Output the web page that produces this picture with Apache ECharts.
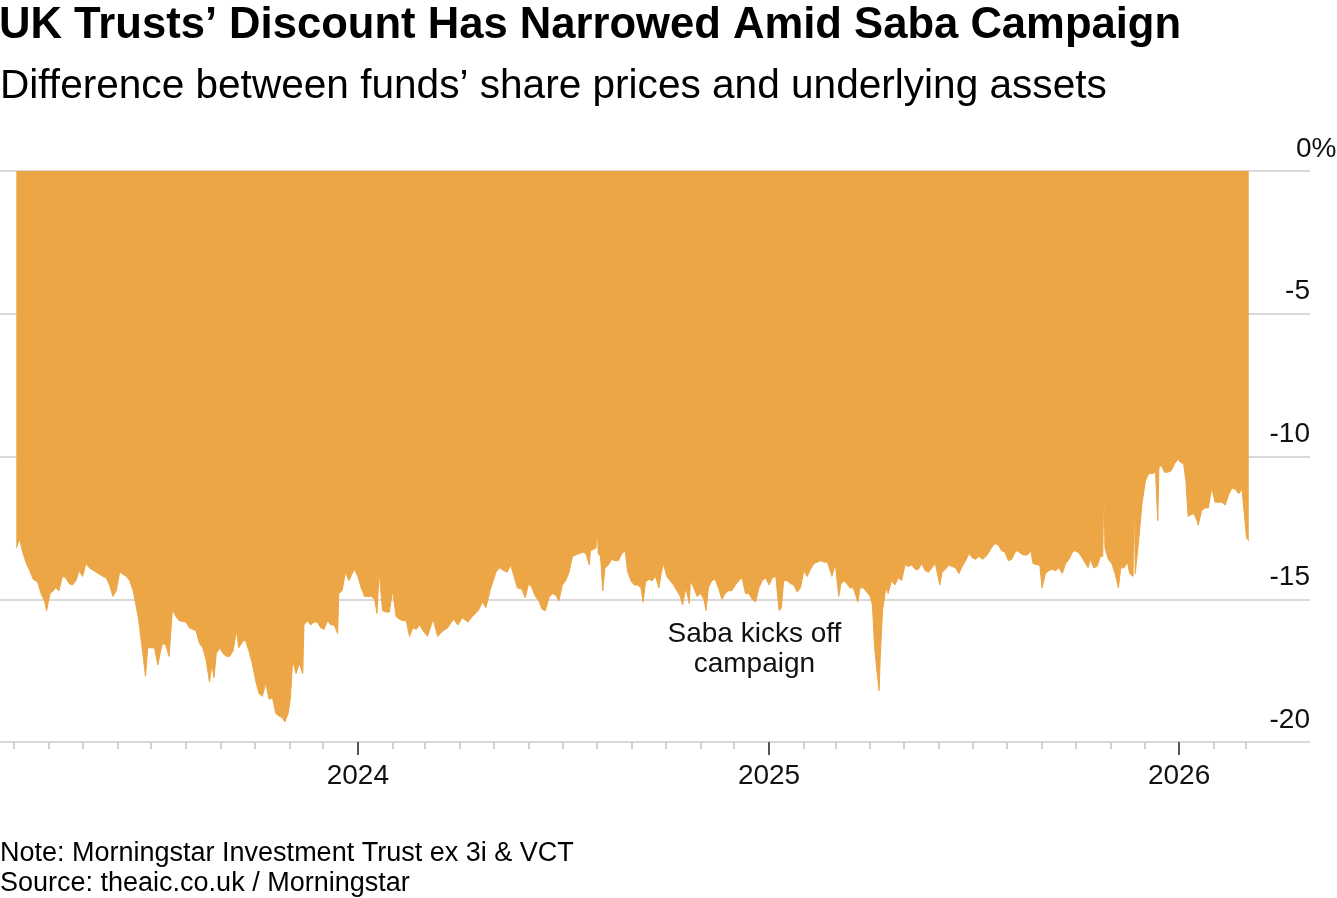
<!DOCTYPE html>
<html>
<head>
<meta charset="utf-8">
<script src="https://cdn.jsdelivr.net/npm/echarts@6/dist/echarts.min.js"></script>
<style>
html,body{margin:0;padding:0;background:#fff;}
#chart{width:1337px;height:898px;}
</style>
</head>
<body>
<div id="chart"></div>
<script>
// ---- Data ----
const dates2023 = ['2023-03-03','2023-03-06','2023-03-09','2023-03-12','2023-03-15','2023-03-18','2023-03-22','2023-03-25','2023-03-28','2023-03-30',
'2023-04-02','2023-04-05','2023-04-07','2023-04-10','2023-04-13','2023-04-16','2023-04-19','2023-04-22','2023-04-25','2023-04-28',
'2023-05-01','2023-05-04','2023-05-07','2023-05-13','2023-05-19','2023-05-22','2023-05-25','2023-05-28','2023-05-31',
'2023-06-03','2023-06-09','2023-06-12','2023-06-15','2023-06-18','2023-06-20','2023-06-23','2023-06-26','2023-06-28',
'2023-07-04','2023-07-07','2023-07-09','2023-07-11','2023-07-14','2023-07-17','2023-07-20','2023-07-23','2023-07-26',
'2023-08-01','2023-08-04','2023-08-10','2023-08-13','2023-08-16','2023-08-19','2023-08-22','2023-08-24','2023-08-26','2023-08-28','2023-08-31',
'2023-09-03','2023-09-06','2023-09-09','2023-09-12','2023-09-15','2023-09-17','2023-09-21','2023-09-23','2023-09-26','2023-09-29',
'2023-10-02','2023-10-05','2023-10-08','2023-10-11','2023-10-14','2023-10-17','2023-10-20','2023-10-23','2023-10-26','2023-10-28','2023-10-31',
'2023-11-02','2023-11-04','2023-11-07','2023-11-10','2023-11-13','2023-11-14','2023-11-17','2023-11-20','2023-11-23','2023-11-26','2023-11-29',
'2023-12-02','2023-12-05','2023-12-08','2023-12-11','2023-12-14','2023-12-15','2023-12-18','2023-12-21','2023-12-24','2023-12-27','2023-12-29'];
const values2023 = [-13.2,-12.9,-13.4,-13.75,-14.0,-14.3,-14.4,-14.8,-15.05,-15.4,
-14.8,-14.7,-14.6,-14.7,-14.2,-14.25,-14.45,-14.5,-14.35,-14.0,
-14.2,-13.75,-13.9,-14.05,-14.2,-14.25,-14.5,-14.9,-14.7,
-14.05,-14.2,-14.35,-14.7,-15.3,-15.75,-16.7,-17.7,-16.7,
-16.7,-17.3,-16.9,-16.55,-16.6,-17.0,-15.35,-15.6,-15.75,
-15.8,-16.0,-16.1,-16.55,-16.7,-17.15,-17.9,-17.3,-17.75,-16.9,-16.7,
-16.9,-17.0,-17.0,-16.8,-16.1,-16.7,-16.45,-16.45,-16.8,-17.25,
-17.85,-18.3,-18.4,-17.95,-18.5,-18.45,-19.0,-19.1,-19.15,-19.3,-19.0,
-18.45,-17.15,-17.6,-17.25,-17.6,-15.9,-15.75,-15.9,-15.8,-15.8,-16.0,
-16.05,-15.75,-15.9,-15.9,-16.2,-14.8,-14.7,-14.05,-14.35,-14.1,-13.95];

const dates2024 = ['2024-01-01','2024-01-04','2024-01-07','2024-01-10','2024-01-13','2024-01-16','2024-01-18','2024-01-20','2024-01-23','2024-01-26','2024-01-29',
'2024-02-01','2024-02-04','2024-02-07','2024-02-10','2024-02-13','2024-02-16','2024-02-19','2024-02-22','2024-02-25','2024-02-28',
'2024-03-03','2024-03-08','2024-03-12','2024-03-17','2024-03-21','2024-03-26','2024-03-30',
'2024-04-03','2024-04-08','2024-04-12','2024-04-17','2024-04-21','2024-04-24','2024-04-28',
'2024-05-03','2024-05-06','2024-05-10','2024-05-13','2024-05-16','2024-05-19','2024-05-22','2024-05-26','2024-05-29',
'2024-06-01','2024-06-04','2024-06-07','2024-06-10','2024-06-13','2024-06-16','2024-06-19','2024-06-22','2024-06-25','2024-06-28',
'2024-07-01','2024-07-04','2024-07-07','2024-07-10','2024-07-13','2024-07-16','2024-07-19','2024-07-22','2024-07-25','2024-07-26','2024-07-29','2024-07-31',
'2024-08-01','2024-08-02','2024-08-04','2024-08-06','2024-08-08','2024-08-11','2024-08-14','2024-08-17','2024-08-20','2024-08-23','2024-08-26','2024-08-28','2024-08-31',
'2024-09-03','2024-09-06','2024-09-09','2024-09-11','2024-09-13','2024-09-16','2024-09-19','2024-09-22','2024-09-25','2024-09-27','2024-09-29',
'2024-10-02','2024-10-05','2024-10-08','2024-10-11','2024-10-14','2024-10-16','2024-10-19','2024-10-22','2024-10-23','2024-10-26','2024-10-29',
'2024-11-01','2024-11-04','2024-11-06','2024-11-08','2024-11-11','2024-11-14','2024-11-17','2024-11-20','2024-11-23','2024-11-26','2024-11-29',
'2024-12-02','2024-12-05','2024-12-08','2024-12-11','2024-12-14','2024-12-17','2024-12-20','2024-12-23','2024-12-26','2024-12-29'];
const values2024 = [-14.2,-14.6,-14.9,-14.9,-14.9,-15.0,-15.5,-14.05,-15.4,-15.45,-15.45,
-14.7,-15.6,-15.7,-15.75,-15.75,-16.3,-16.0,-16.05,-15.9,-16.1,
-16.3,-15.7,-16.3,-16.1,-16.0,-15.7,-15.9,
-15.65,-15.8,-15.6,-15.4,-15.1,-15.3,-14.65,
-14.05,-13.9,-14.0,-14.05,-13.8,-14.2,-14.6,-14.65,-14.95,
-14.45,-14.6,-14.9,-15.05,-15.35,-15.4,-14.95,-14.8,-14.85,-15.05,
-14.5,-14.35,-14.05,-13.5,-13.45,-13.4,-13.35,-13.4,-13.8,-13.3,-13.25,-13.2,
-12.3,-13.4,-13.5,-14.7,-13.9,-13.8,-13.6,-13.65,-13.65,-13.4,-13.3,-14.0,-14.35,
-14.5,-14.5,-14.6,-15.1,-14.4,-14.3,-14.35,-14.2,-14.6,-14.1,-13.75,
-14.2,-14.35,-14.5,-14.7,-14.9,-15.2,-14.6,-15.15,-14.35,-14.6,-14.9,
-14.8,-15.0,-15.4,-14.6,-14.35,-14.3,-14.6,-15.0,-14.8,-14.7,-14.7,
-14.5,-14.35,-14.25,-14.8,-14.8,-15.0,-15.1,-14.6,-14.35,-14.25];

const dates2025 = ['2025-01-01','2025-01-04','2025-01-07','2025-01-10','2025-01-12','2025-01-14','2025-01-17','2025-01-20','2025-01-23','2025-01-26','2025-01-29',
'2025-02-01','2025-02-04','2025-02-07','2025-02-10','2025-02-13','2025-02-16','2025-02-19','2025-02-22','2025-02-26',
'2025-03-01','2025-03-04','2025-03-06','2025-03-09','2025-03-12','2025-03-14','2025-03-17','2025-03-21','2025-03-23','2025-03-26','2025-03-29',
'2025-04-01','2025-04-03','2025-04-05','2025-04-07','2025-04-09','2025-04-10','2025-04-12','2025-04-15','2025-04-17','2025-04-20','2025-04-23','2025-04-26','2025-04-29',
'2025-05-02','2025-05-05','2025-05-08','2025-05-11','2025-05-14','2025-05-17','2025-05-20','2025-05-23','2025-05-26','2025-05-29',
'2025-06-02','2025-06-04','2025-06-07','2025-06-10','2025-06-13','2025-06-16','2025-06-19','2025-06-22','2025-06-25','2025-06-28',
'2025-07-01','2025-07-04','2025-07-07','2025-07-10','2025-07-13','2025-07-15','2025-07-18','2025-07-21','2025-07-24','2025-07-27','2025-07-30',
'2025-08-02','2025-08-05','2025-08-08','2025-08-10','2025-08-13','2025-08-16','2025-08-19','2025-08-22','2025-08-24','2025-08-28','2025-08-30',
'2025-09-01','2025-09-04','2025-09-07','2025-09-10','2025-09-13','2025-09-16','2025-09-19','2025-09-22','2025-09-25','2025-09-28','2025-09-30',
'2025-10-03','2025-10-06','2025-10-09','2025-10-12','2025-10-14','2025-10-17','2025-10-20','2025-10-23','2025-10-25','2025-10-26','2025-10-27','2025-10-30',
'2025-11-02','2025-11-05','2025-11-08','2025-11-10','2025-11-13','2025-11-16','2025-11-18','2025-11-21','2025-11-22','2025-11-23','2025-11-26','2025-11-29',
'2025-12-02','2025-12-05','2025-12-08','2025-12-11','2025-12-12','2025-12-13','2025-12-14','2025-12-16','2025-12-19','2025-12-22','2025-12-25','2025-12-28','2025-12-31'];
const values2025 = [-14.5,-14.25,-14.2,-15.4,-15.3,-14.35,-14.35,-14.45,-14.5,-14.75,-14.6,
-14.0,-14.2,-13.95,-13.75,-13.7,-13.65,-13.7,-13.7,-14.2,
-13.75,-14.9,-14.45,-14.35,-14.5,-14.6,-14.6,-15.1,-14.6,-14.6,-14.75,
-14.9,-15.2,-16.7,-17.5,-18.2,-17.05,-15.4,-14.6,-14.8,-14.35,-14.5,-14.25,-14.35,
-13.8,-13.85,-13.8,-13.95,-13.95,-13.75,-14.0,-14.05,-13.9,-13.75,
-14.5,-14.05,-13.95,-13.8,-13.85,-13.9,-14.1,-13.85,-13.65,-13.4,
-13.55,-13.6,-13.5,-13.6,-13.5,-13.4,-13.2,-13.05,-13.1,-13.3,-13.35,
-13.65,-13.6,-13.35,-13.3,-13.4,-13.45,-13.45,-13.3,-13.75,-13.8,-13.8,
-14.6,-14.1,-14.0,-13.95,-14.0,-13.9,-14.1,-13.75,-13.6,-13.35,-13.3,
-13.35,-13.5,-13.7,-13.9,-13.6,-13.9,-13.85,-13.5,-13.5,-10.95,-13.2,-13.6,
-13.75,-14.1,-14.6,-13.9,-13.9,-13.7,-14.1,-14.2,-11.1,-14.1,-12.95,-11.65,
-10.85,-10.6,-10.6,-10.55,-10.6,-12.25,-10.4,-10.3,-10.55,-10.55,-10.5,-10.25,-10.1];

const dates2026 = ['2026-01-02','2026-01-05','2026-01-07','2026-01-09','2026-01-11','2026-01-14','2026-01-17','2026-01-18','2026-01-21','2026-01-24','2026-01-27','2026-01-30',
'2026-02-02','2026-02-05','2026-02-08','2026-02-11','2026-02-14','2026-02-17','2026-02-20','2026-02-23','2026-02-26','2026-02-28',
'2026-03-02','2026-03-04'];
const values2026 = [-10.2,-10.25,-10.85,-12.1,-12.05,-12.0,-12.25,-12.4,-11.9,-11.8,-11.8,-11.1,
-11.6,-11.6,-11.6,-11.7,-11.35,-11.1,-11.15,-11.3,-11.15,-12.0,
-12.85,-12.95];

const yearTickDates = ['2024-01-01','2025-01-01','2026-01-01'];
const annotationDate = '2024-12-19';
const annotationValue = -16.74;
const annotationText = 'Saba kicks off\ncampaign';

const titleText = 'UK Trusts’ Discount Has Narrowed Amid Saba Campaign';
const subtitleText = 'Difference between funds’ share prices and underlying assets';
const noteText = 'Note: Morningstar Investment Trust ex 3i & VCT';
const sourceText = 'Source: theaic.co.uk / Morningstar';

// ---- Build ----
const FONT = '"Liberation Sans", Arial, Helvetica, sans-serif';
const ts = s => { const p = s.split('-').map(Number); return new Date(p[0], p[1]-1, p[2]).getTime(); };
const allDates = [].concat(dates2023, dates2024, dates2025, dates2026);
const allValues = [].concat(values2023, values2024, values2025, values2026);
const seriesData = allDates.map((d, i) => [ts(d), allValues[i]]);

const monthTicks = [];
for (let y = 2023; y <= 2026; y++) {
  for (let m = 0; m < 12; m++) {
    const v = new Date(y, m, 1).getTime();
    if (v >= ts('2023-03-01') && v <= ts('2026-03-01') && m !== 0) monthTicks.push(v);
  }
}
const yearTicks = yearTickDates.map(ts);
const xMin = ts('2023-02-16') + 12 * 3600e3;
const xMax = ts('2026-04-27') + 12 * 3600e3;

const gridRect = {left: 0, right: 27, top: 171, bottom: 156, containLabel: false, outerBoundsMode: 'none'};

const chart = echarts.init(document.getElementById('chart'), null, {renderer: 'canvas'});
chart.setOption({
  animation: false,
  backgroundColor: '#fff',
  textStyle: {fontFamily: FONT},
  title: [
    {text: titleText, left: -1, top: 4, padding: 0,
     textStyle: {fontFamily: FONT, fontWeight: 'bold', fontSize: 43.6, color: '#000'}},
    {text: subtitleText, left: 0, top: 66, padding: 0,
     textStyle: {fontFamily: FONT, fontWeight: 'normal', fontSize: 40.6, color: '#000'}},
    {text: noteText, left: 0, top: 840, padding: 0,
     textStyle: {fontFamily: FONT, fontWeight: 'normal', fontSize: 27, color: '#000'}},
    {text: sourceText, left: 0, top: 870, padding: 0,
     textStyle: {fontFamily: FONT, fontWeight: 'normal', fontSize: 27, color: '#000'}}
  ],
  grid: [Object.assign({}, gridRect), Object.assign({}, gridRect)],
  xAxis: [
    {
      gridIndex: 0, type: 'value', min: xMin, max: xMax, position: 'bottom', z: 3,
      axisLine: {show: false, onZero: false},
      splitLine: {show: false},
      axisTick: {show: true, customValues: yearTicks, length: 13, lineStyle: {color: '#555', width: 2}},
      axisLabel: {show: true, customValues: yearTicks, margin: 20, fontSize: 28, color: '#111', fontFamily: FONT,
        formatter: v => String(new Date(v).getFullYear())}
    },
    {
      gridIndex: 1, type: 'value', min: xMin, max: xMax, position: 'bottom', z: 2,
      axisLine: {show: false, onZero: false},
      splitLine: {show: false},
      axisTick: {show: true, customValues: monthTicks, length: 7, lineStyle: {color: '#d0d0d0', width: 2}},
      axisLabel: {show: false}
    }
  ],
  yAxis: [
    {
      gridIndex: 0, type: 'value', position: 'right', min: -20, max: 0, interval: 5,
      axisLine: {show: false}, axisTick: {show: false},
      splitLine: {show: true, lineStyle: {color: '#d9d9d9', width: 2}},
      axisLabel: {
        inside: true, margin: 0, align: 'right', verticalAlign: 'bottom', padding: [0, 0, 8, 0],
        fontSize: 28, color: '#111', fontFamily: FONT,
        formatter: v => v === 0 ? '{z|0%}' : String(v),
        rich: {z: {width: 14, align: 'left', fontSize: 28, color: '#111', fontFamily: FONT}}
      }
    },
    {
      gridIndex: 1, type: 'value', min: -20, max: 0, show: false
    }
  ],
  series: [{
    type: 'line', xAxisIndex: 0, yAxisIndex: 0, data: seriesData,
    symbol: 'none', showSymbol: false,
    lineStyle: {width: 1, color: '#eca646'},
    itemStyle: {color: '#eca646'},
    areaStyle: {color: '#eca646', opacity: 1},
    markPoint: {
      symbol: 'circle', symbolSize: 1, itemStyle: {color: 'rgba(0,0,0,0)'},
      label: {show: true, position: 'inside', formatter: annotationText, fontSize: 28, lineHeight: 30,
        color: '#111', fontFamily: FONT, align: 'center'},
      data: [{coord: [ts(annotationDate), annotationValue]}]
    }
  }]
});
</script>
</body>
</html>
